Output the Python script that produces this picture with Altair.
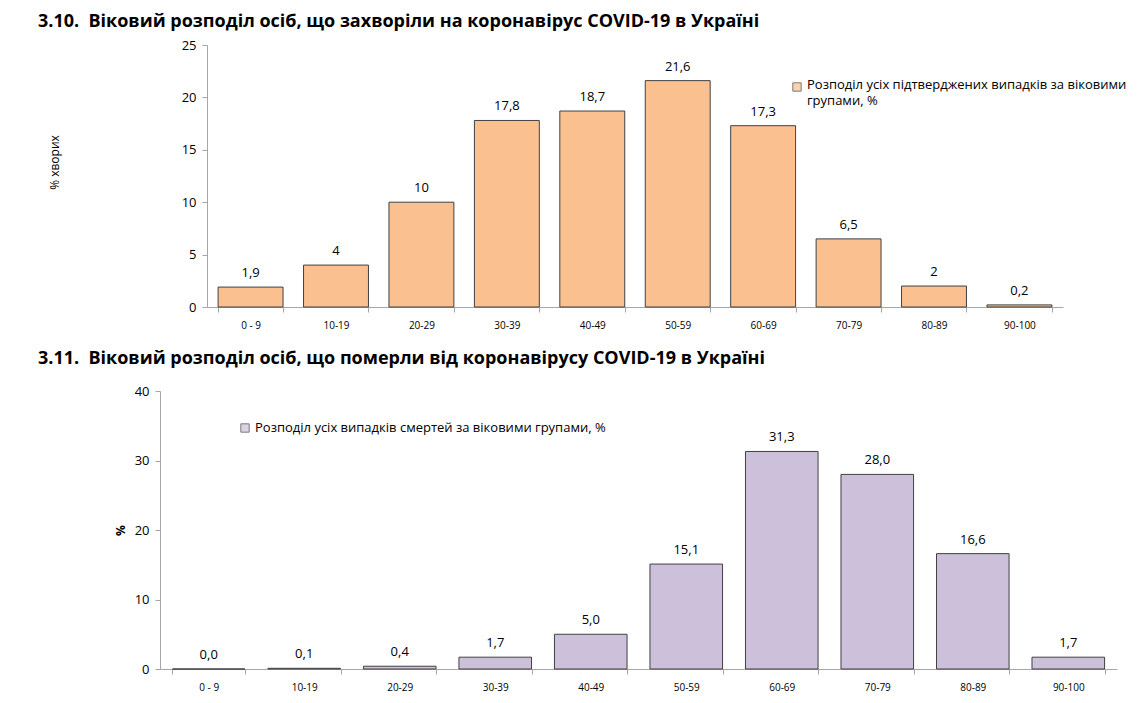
import altair as alt
import pandas as pd

# ---- data ----
ages = ["0 - 9", "10-19", "20-29", "30-39", "40-49", "50-59", "60-69", "70-79", "80-89", "90-100"]
cases_pct = [1.9, 4, 10, 17.8, 18.7, 21.6, 17.3, 6.5, 2, 0.2]
deaths_pct = [0.0, 0.1, 0.4, 1.7, 5.0, 15.1, 31.3, 28.0, 16.6, 1.7]
y1_ticks = [0, 5, 10, 15, 20, 25]
y2_ticks = [0, 10, 20, 30, 40]

title1 = "3.10.\u00a0 Віковий розподіл осіб, що захворіли на коронавірус COVID-19 в Україні"
title2 = "3.11.\u00a0 Віковий розподіл осіб, що померли від коронавірусу COVID-19 в Україні"
legend1 = "Розподіл усіх підтверджених випадків за віковими\nгрупами, %"
legend2 = "Розподіл усіх випадків смертей за віковими групами, %"
ytitle1 = "% хворих"
ytitle2 = "%"

FONT = "Open Sans"
C1 = "#FAC090"
C2 = "#CCC0DA"
EDGE = "#404040"
AXC = "#a6a6a6"

df1 = pd.DataFrame({"age": ages, "v": cases_pct,
                    "lab": [f"{v:g}".replace(".", ",") for v in cases_pct]})
df2 = pd.DataFrame({"age": ages, "v": deaths_pct,
                    "lab": [f"{v:.1f}".replace(".", ",") for v in deaths_pct]})


def xaxis():
    return alt.Axis(labelAngle=0, tickBand="extent", domainColor=AXC, tickColor=AXC,
                    tickSize=5, labelFontSize=10, labelPadding=8, labelColor="black",
                    labelFont=FONT, title=None)


# ---- chart 1 ----
W1, H1 = 903, 262
x1 = alt.X("age:N", sort=ages, title=None,
           scale=alt.Scale(range=[47, 903], paddingInner=0.24, paddingOuter=0.13),
           axis=xaxis())
y1 = alt.Y("v:Q", title=ytitle1, scale=alt.Scale(domain=[0, 25]),
           axis=alt.Axis(values=y1_ticks, grid=False, offset=-47, domainColor=AXC,
                         tickColor=AXC, tickSize=5, labelPadding=6, labelFontSize=13,
                         labelFont=FONT, labelColor="black", titleFont=FONT,
                         titleFontSize=12, titleFontWeight="normal", titleColor="black",
                         titlePadding=120, titleY=117))
base1 = alt.Chart(df1)
bars1 = base1.mark_bar(color=C1, stroke=EDGE, strokeWidth=1).encode(x=x1, y=y1)
text1 = base1.mark_text(dy=-7, baseline="bottom", fontSize=13, font=FONT,
                        color="black").encode(x=x1, y=y1, text="lab:N")
leg1_df = pd.DataFrame({"t": [legend1]})
legsq1 = alt.Chart(leg1_df).mark_square(size=70, color=C1, stroke=EDGE, strokeWidth=1).encode(
    x=alt.value(637), y=alt.value(42))
legtx1 = alt.Chart(leg1_df).mark_text(align="left", baseline="top", lineBreak="\n",
                                      fontSize=13, font=FONT, color="black",
                                      lineHeight=16).encode(
    x=alt.value(647), y=alt.value(34), text="t:N")
chart1 = alt.layer(bars1, text1, legsq1, legtx1).properties(
    width=W1, height=H1,
    title=alt.TitleParams(title1, anchor="start", frame="group", dx=-122, offset=8,
                          fontSize=18, font=FONT, fontWeight="bold", color="black"))

# ---- chart 2 ----
W2, H2 = 957, 278
x2 = alt.X("age:N", sort=ages, title=None,
           scale=alt.Scale(paddingInner=0.24, paddingOuter=0.13), axis=xaxis())
y2 = alt.Y("v:Q", title=ytitle2, scale=alt.Scale(domain=[0, 40]),
           axis=alt.Axis(values=y2_ticks, grid=False, domainColor=AXC,
                         tickColor=AXC, tickSize=5, labelPadding=6, labelFontSize=13,
                         labelFont=FONT, labelColor="black", titleFont=FONT,
                         titleFontSize=12, titleFontWeight="bold", titleColor="black",
                         titlePadding=7))
base2 = alt.Chart(df2)
bars2 = base2.mark_bar(color=C2, stroke=EDGE, strokeWidth=1).encode(x=x2, y=y2)
text2 = base2.mark_text(dy=-7, baseline="bottom", fontSize=13, font=FONT,
                        color="black").encode(x=x2, y=y2, text="lab:N")
leg2_df = pd.DataFrame({"t": [legend2]})
legsq2 = alt.Chart(leg2_df).mark_square(size=70, color=C2, stroke=EDGE, strokeWidth=1).encode(
    x=alt.value(85), y=alt.value(37))
legtx2 = alt.Chart(leg2_df).mark_text(align="left", baseline="middle", fontSize=13,
                                      font=FONT, color="black").encode(
    x=alt.value(95), y=alt.value(37), text="t:N")
chart2 = alt.layer(bars2, text2, legsq2, legtx2).properties(
    width=W2, height=H2,
    title=alt.TitleParams(title2, anchor="start", frame="group", dx=-122, offset=17,
                          fontSize=18, font=FONT, fontWeight="bold", color="black"))

chart = alt.vconcat(chart1, chart2, spacing=20).properties(
    padding={"left": 30, "top": 5, "right": 0, "bottom": 0}
).configure_view(stroke=None)

chart.save("out.html", embed_options={"renderer": "svg", "actions": False})
